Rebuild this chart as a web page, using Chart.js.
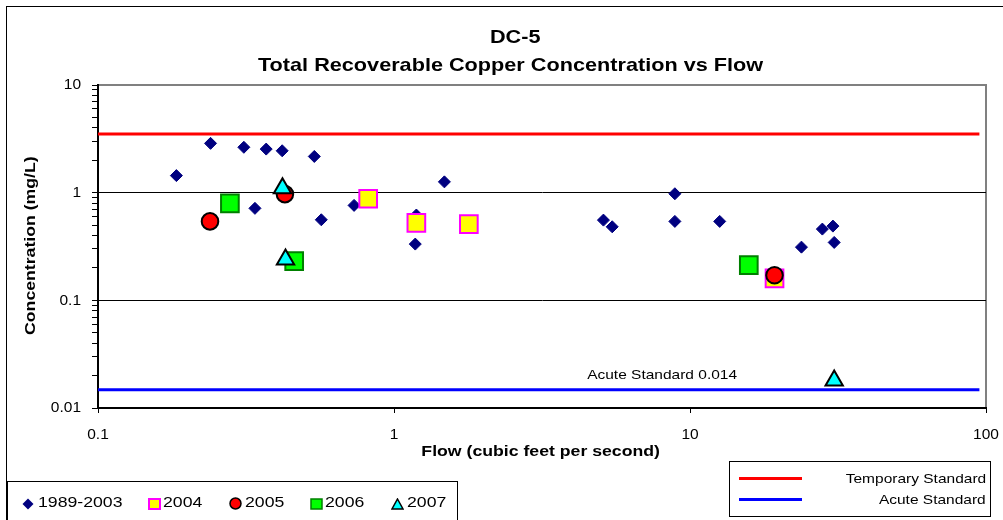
<!DOCTYPE html>
<html>
<head>
<meta charset="utf-8">
<script src="https://cdn.jsdelivr.net/npm/chart.js@4/dist/chart.umd.min.js"></script>
<style>
  body { margin: 0; background: #fff; font-family: "Liberation Sans", Arial, sans-serif; color: #000; }
  #wrap { position: relative; width: 1003px; height: 520px; overflow: hidden; background: #fff; }
  #c { position: absolute; left: 0; top: 0; }
  #frame { position: absolute; left: 6px; top: 6px; width: 1020px; height: 540px; border: 1px solid #000; }
  .ctr { position: absolute; width: 600px; height: 24px; line-height: 24px; text-align: center; white-space: nowrap; }
  .ctr span { display: inline-block; transform: scaleX(1.14); }
  .title { font-weight: bold; font-size: 19px; }
  .axt { font-weight: bold; font-size: 15.5px; }
  #leg1 { position: absolute; left: 7px; top: 481px; width: 449px; height: 60px; border: 1px solid #000; background: #fff; }
  #leg2 { position: absolute; left: 729px; top: 461px; width: 260px; height: 54px; border: 1px solid #000; background: #fff; }
  .li { position: absolute; font-size: 15.5px; line-height: 20px; height: 20px; white-space: nowrap; transform: scaleX(1.14); transform-origin: left center; }
  .mk { position: absolute; }
  .sw { position: absolute; height: 3px; width: 63px; }
  .lr { position: absolute; right: 4px; font-size: 13.6px; line-height: 18px; white-space: nowrap; transform: scaleX(1.14); transform-origin: right center; }
</style>
</head>
<body>
<div id="wrap">
  <canvas id="c" width="1003" height="520"></canvas>
  <div id="frame"></div>
  <div class="ctr title" style="left:215px; top:25px;"><span>DC-5</span></div>
  <div class="ctr title" style="left:211px; top:53px;"><span>Total Recoverable Copper Concentration vs Flow</span></div>
  <div class="ctr axt" style="left:-270px; top:234px; transform: rotate(-90deg);"><span>Concentration (mg/L)</span></div>
  <div class="ctr axt" style="left:241px; top:439px;"><span>Flow (cubic feet per second)</span></div>

  <div id="leg1"></div>
  <div id="leg2">
    <div class="sw" style="left:9px; top:15px; background:#ff0000;"></div>
    <div class="lr" style="top:8px;">Temporary Standard</div>
    <div class="sw" style="left:9px; top:36px; background:#0000ff;"></div>
    <div class="lr" style="top:29px;">Acute Standard</div>
  </div>
</div>

<script>
// 1989-2003 samples (flow cfs, Cu mg/L)
const flow8903 = [0.184, 0.24, 0.311, 0.37, 0.419, 0.538, 0.339, 0.568, 0.733, 1.18, 1.19, 1.48, 5.10, 5.46, 8.89, 8.89, 12.6, 23.8, 28.0, 30.4, 30.7];
const conc8903 = [1.44, 2.87, 2.64, 2.54, 2.45, 2.17, 0.715, 0.56, 0.762, 0.333, 0.62, 1.26, 0.556, 0.482, 0.977, 0.541, 0.541, 0.312, 0.459, 0.489, 0.345];

const flow2004 = [0.818, 1.19, 1.79, 19.3];
const conc2004 = [0.878, 0.525, 0.51, 0.16];

const flow2005 = [0.239, 0.428, 19.3];
const conc2005 = [0.541, 0.97, 0.171];

const flow2006 = [0.279, 0.46, 15.8];
const conc2006 = [0.795, 0.231, 0.212];

const flow2007 = [0.42, 0.43, 30.7];
const conc2007 = [1.1, 0.24, 0.018];

// standards
const stdFlow = [0.1, 95];
const tempStd = [3.5, 3.5];
const acuteStd = [0.0148, 0.0148];
const acuteLabel = 'Acute Standard 0.014';
const acuteLabelFlow = 8.05;

// axes
const xTicks = [0.1, 1, 10, 100];
const xTickLabels = ['0.1', '1', '10', '100'];
const yTicks = [0.01, 0.1, 1, 10];
const yTickLabels = ['0.01', '0.1', '1', '10'];

const pts = (xs, ys) => xs.map((x, i) => ({ x: x, y: ys[i] }));

// legend 1 (html)
const legItems = [
  { label: '1989-2003', mk: '<svg width="12" height="12"><polygon points="6,0.5 11.5,6 6,11.5 0.5,6" fill="#000080"/></svg>', mx: 14, tx: 30 },
  { label: '2004', mk: '<svg width="13" height="12"><rect x="1" y="1" width="11" height="10" fill="#ffff00" stroke="#ff00ff" stroke-width="2"/></svg>', mx: 140, tx: 155 },
  { label: '2005', mk: '<svg width="13" height="13"><circle cx="6.5" cy="6.5" r="5.5" fill="#ff0000" stroke="#000" stroke-width="1.5"/></svg>', mx: 221, tx: 237 },
  { label: '2006', mk: '<svg width="13" height="12"><rect x="1" y="1" width="11" height="10" fill="#00ff00" stroke="#008000" stroke-width="1.5"/></svg>', mx: 302, tx: 317 },
  { label: '2007', mk: '<svg width="13" height="12"><polygon points="6.5,1 12,11 1,11" fill="#00ffff" stroke="#000" stroke-width="1.5"/></svg>', mx: 383, tx: 399 }
];
const leg1 = document.getElementById('leg1');
legItems.forEach(it => {
  leg1.insertAdjacentHTML('beforeend',
    '<div class="mk" style="left:' + it.mx + 'px; top:14px;">' + it.mk + '</div>' +
    '<div class="li" style="left:' + it.tx + 'px; top:10px;">' + it.label + '</div>');
});

const bgPlugin = {
  id: 'bg',
  beforeDraw(chart) {
    const { ctx, chartArea: a } = chart;
    ctx.save();
    ctx.fillStyle = '#fff';
    ctx.fillRect(0, 0, chart.width, chart.height);
    ctx.strokeStyle = '#808080';
    ctx.lineWidth = 2;
    ctx.beginPath();
    ctx.moveTo(a.left, a.top);
    ctx.lineTo(a.right, a.top);
    ctx.lineTo(a.right, a.bottom);
    ctx.stroke();
    ctx.restore();
  },
  afterDatasetsDraw(chart) {
    const { ctx, scales } = chart;
    const x = scales.x.getPixelForValue(acuteLabelFlow);
    const y = scales.y.getPixelForValue(acuteStd[0]) - 14;
    ctx.save();
    ctx.translate(x, y);
    ctx.scale(1.14, 1);
    ctx.fillStyle = '#000';
    ctx.font = '13.6px "Liberation Sans", Arial, sans-serif';
    ctx.textAlign = 'center';
    ctx.textBaseline = 'middle';
    ctx.fillText(acuteLabel, 0, 0);
    ctx.restore();
  }
};

new Chart(document.getElementById('c'), {
  type: 'scatter',
  data: {
    datasets: [
      { label: 'Temporary Standard', data: pts(stdFlow, tempStd), showLine: true, borderColor: '#ff0000', borderWidth: 3, pointRadius: 0, order: 7 },
      { label: 'Acute Standard', data: pts(stdFlow, acuteStd), showLine: true, borderColor: '#0000ff', borderWidth: 3, pointRadius: 0, order: 6 },
      { label: '1989-2003', data: pts(flow8903, conc8903), pointStyle: 'rectRot', pointRadius: 6, backgroundColor: '#000080', borderColor: '#000080', borderWidth: 1, order: 5 },
      { label: '2004', data: pts(flow2004, conc2004), pointStyle: 'rect', pointRadius: 12.5, backgroundColor: '#ffff00', borderColor: '#ff00ff', borderWidth: 2, order: 4 },
      { label: '2005', data: pts(flow2005, conc2005), pointStyle: 'circle', pointRadius: 8.3, backgroundColor: '#ff0000', borderColor: '#000', borderWidth: 2, order: 3 },
      { label: '2006', data: pts(flow2006, conc2006), pointStyle: 'rect', pointRadius: 12.5, backgroundColor: '#00ff00', borderColor: '#008000', borderWidth: 2, order: 2 },
      { label: '2007', data: pts(flow2007, conc2007), pointStyle: 'triangle', pointRadius: 10, backgroundColor: '#00ffff', borderColor: '#000', borderWidth: 2, order: 1 }
    ]
  },
  options: {
    responsive: false,
    animation: false,
    events: [],
    layout: { padding: { left: 0, right: 17, top: 85, bottom: 54 } },
    plugins: { legend: { display: false }, title: { display: false }, tooltip: { enabled: false } },
    scales: {
      x: {
        type: 'logarithmic',
        min: 0.1,
        max: 100,
        afterBuildTicks: s => { s.ticks = xTicks.map(v => ({ value: v })); },
        afterFit: s => { s.height = 58; s.paddingLeft = 0; s.paddingRight = 0; },
        ticks: {
          autoSkip: false, maxRotation: 0, padding: 12, color: '#000',
          font: { family: '"Liberation Sans", Arial, sans-serif', size: 15.5 },
          callback: v => xTickLabels[xTicks.indexOf(v)]
        },
        grid: { drawOnChartArea: false, tickLength: 5, tickColor: '#000' },
        border: { color: '#000', width: 2 }
      },
      y: {
        type: 'logarithmic',
        min: 0.01,
        max: 10,
        afterBuildTicks: s => {
          const t = [];
          for (let d = 0; d < yTicks.length - 1; d++) {
            for (let k = 1; k < 10; k++) t.push({ value: yTicks[d] * k });
          }
          t.push({ value: yTicks[yTicks.length - 1] });
          s.ticks = t;
        },
        afterFit: s => { s.width = 98; s.paddingTop = 0; s.paddingBottom = 0; },
        ticks: {
          autoSkip: false, padding: 11, color: '#000',
          font: { family: '"Liberation Sans", Arial, sans-serif', size: 15.5 },
          callback: v => { const i = yTicks.indexOf(v); return i >= 0 ? yTickLabels[i] : ''; }
        },
        grid: {
          color: c => (c.tick && (c.tick.value === 1 || c.tick.value === 0.1)) ? '#000' : 'rgba(0,0,0,0)',
          lineWidth: 1, tickLength: 6, tickColor: '#000'
        },
        border: { color: '#000', width: 2 }
      }
    }
  },
  plugins: [bgPlugin]
});
</script>
</body>
</html>
